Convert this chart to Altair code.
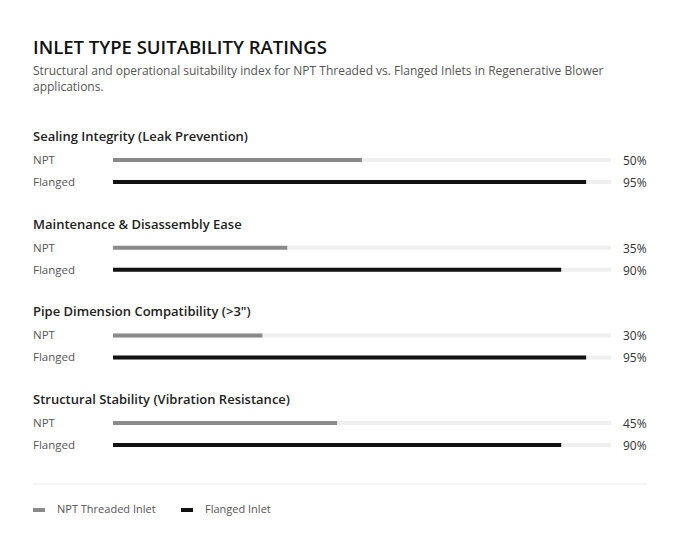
import altair as alt
import pandas as pd

# ---- data ----
title_text = "INLET TYPE SUITABILITY RATINGS"
subtitle_lines = [
    "Structural and operational suitability index for NPT Threaded vs. Flanged Inlets in Regenerative Blower",
    "applications.",
]
categories = [
    "Sealing Integrity (Leak Prevention)",
    "Maintenance & Disassembly Ease",
    'Pipe Dimension Compatibility (>3")',
    "Structural Stability (Vibration Resistance)",
]
npt_values = [50, 35, 30, 45]
flanged_values = [95, 90, 95, 90]
series_names = ["NPT Threaded Inlet", "Flanged Inlet"]
row_labels = ["NPT", "Flanged"]
series_colors = ["#8a8a8a", "#111111"]

# ---- layout (row slots on the y scale) ----
STEP = 87.7
HEAD = 6
ROW_OFF = [30, 52]
FONT = "Open Sans"

rows = []
heads = []
for g, cat in enumerate(categories):
    base = g * STEP
    heads.append({"cat": cat, "pos": base + HEAD})
    for s, vals in enumerate([npt_values, flanged_values]):
        rows.append({
            "cat": cat,
            "series": series_names[s],
            "label": row_labels[s],
            "value": vals[g],
            "pct": f"{vals[g]}%",
            "pos": base + ROW_OFF[s],
            "start": 0,
            "full": 100,
        })
rows_df = pd.DataFrame(rows)
heads_df = pd.DataFrame(heads)
titles_df = pd.DataFrame({
    "text": [title_text] + subtitle_lines,
    "pos": [-84, -60, -44],
    "kind": ["title", "sub", "sub"],
})

W, H = 498, 400
yscale = alt.Scale(domain=[0, H], reverse=True, nice=False, zero=False)
xscale = alt.Scale(domain=[0, 100], nice=False)

base = alt.Chart(rows_df)

track = base.mark_rule(color="#efefef", strokeWidth=4, strokeCap="butt").encode(
    x=alt.X("start:Q", scale=xscale, axis=None),
    x2="full:Q",
    y=alt.Y("pos:Q", scale=yscale, axis=None),
)

bars = base.mark_rule(strokeWidth=4, strokeCap="butt").encode(
    x=alt.X("start:Q", scale=xscale, axis=None),
    x2="value:Q",
    y=alt.Y("pos:Q", scale=yscale, axis=None),
    color=alt.Color(
        "series:N",
        scale=alt.Scale(domain=series_names, range=series_colors),
        legend=alt.Legend(
            title=None,
            orient="none",
            legendX=-82,
            legendY=372,
            direction="horizontal",
            symbolType="stroke",
            symbolSize=144,
            symbolStrokeWidth=4,
            labelFont=FONT,
            labelFontSize=11,
            labelColor="#555555",
            labelOffset=10,
            columnPadding=17,
        ),
    ),
)

row_text = base.mark_text(align="left", baseline="middle", dy=1, font=FONT, fontSize=11.5, color="#555555").encode(
    x=alt.value(-80),
    y=alt.Y("pos:Q", scale=yscale, axis=None),
    text="label:N",
)

pct_text = base.mark_text(align="left", baseline="middle", dx=12, dy=1, font=FONT, fontSize=12, color="#333333").encode(
    x=alt.X("full:Q", scale=xscale, axis=None),
    y=alt.Y("pos:Q", scale=yscale, axis=None),
    text="pct:N",
)

head_text = alt.Chart(heads_df).mark_text(
    align="left", baseline="middle", dy=1, font=FONT, fontSize=13, fontWeight=600, color="#222222"
).encode(
    x=alt.value(-80),
    y=alt.Y("pos:Q", scale=yscale, axis=None),
    text="cat:N",
)

title_mark = alt.Chart(titles_df).transform_filter(alt.datum.kind == "title").mark_text(
    align="left", baseline="middle", dy=2, font=FONT, fontSize=18.5, fontWeight=600, color="#111111"
).encode(
    x=alt.value(-80),
    y=alt.Y("pos:Q", scale=yscale, axis=None),
    text="text:N",
)

sub_mark = alt.Chart(titles_df).transform_filter(alt.datum.kind == "sub").mark_text(
    align="left", baseline="middle", dy=1, font=FONT, fontSize=12, color="#555555"
).encode(
    x=alt.value(-80),
    y=alt.Y("pos:Q", scale=yscale, axis=None),
    text="text:N",
)

sep_df = pd.DataFrame({"pos": [354]})
separator = alt.Chart(sep_df).mark_rule(color="#e8e8e8", strokeWidth=1).encode(
    x=alt.value(-80),
    x2=alt.value(534),
    y=alt.Y("pos:Q", scale=yscale, axis=None),
)

chart = alt.layer(
    title_mark, sub_mark, head_text, track, bars, row_text, pct_text, separator
).properties(
    width=W,
    height=H,
    autosize=alt.AutoSizeParams(type="none"),
    padding={"left": 105, "top": 122, "right": 61, "bottom": 12},
    background="white",
).configure_view(stroke=None)

chart.save("out.html", embed_options={"renderer": "svg", "actions": False})
